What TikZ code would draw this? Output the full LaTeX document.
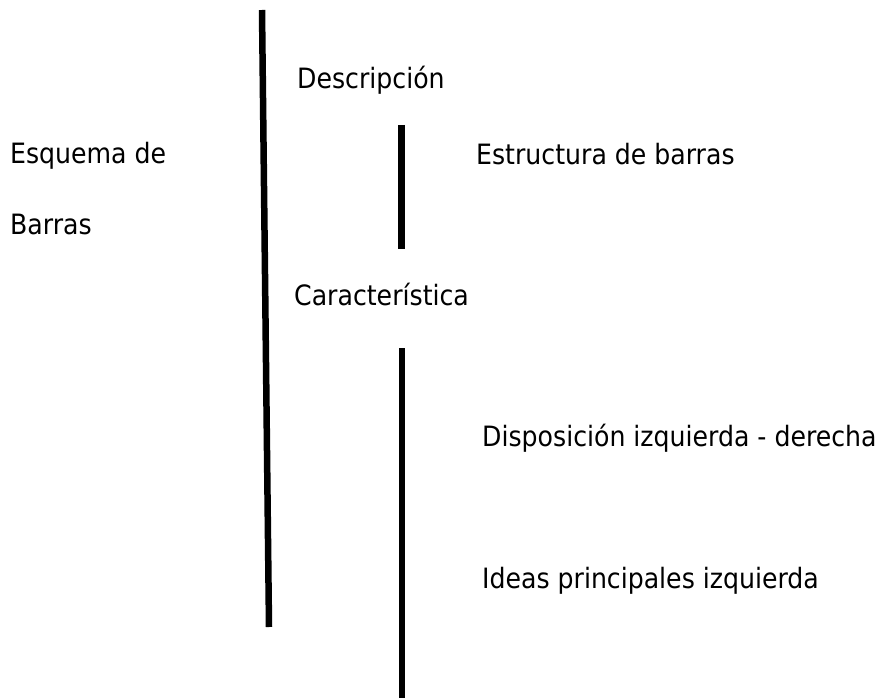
\documentclass[tikz,border=0pt]{standalone}
\usepackage{fontspec}
\setmainfont{DejaVu Sans Condensed}
\begin{document}
\begin{tikzpicture}[x=1pt,y=-1pt,
  lbl/.style={anchor=base west,inner sep=0pt,font=\fontsize{28}{33}\selectfont},
  bar/.style={line width=6.5pt,black}]
\useasboundingbox[fill=white] (0,0) rectangle (887,698);
\coordinate (a1) at (262,10);
\coordinate (a2) at (269,627);
\coordinate (b1) at (401.5,125);
\coordinate (b2) at (401.5,249);
\coordinate (c1) at (402,348);
\coordinate (c2) at (402,698);
\draw[bar] (a1) -- (a2);
\draw[bar] (b1) -- (b2);
\draw[bar] (c1) -- (c2);
\node[lbl] (desc) at (297,89) {Descripción};
\node[lbl] (esq) at (10,164) {Esquema de};
\node[lbl] (bar) at (10,234) {Barras};
\node[lbl] (estr) at (476,165) {Estructura de barras};
\node[lbl] (car) at (294,305) {Característica};
\node[lbl] (disp) at (482,446) {Disposición izquierda - derecha};
\node[lbl] (ideas) at (482,588) {Ideas principales izquierda};
\end{tikzpicture}
\end{document}
